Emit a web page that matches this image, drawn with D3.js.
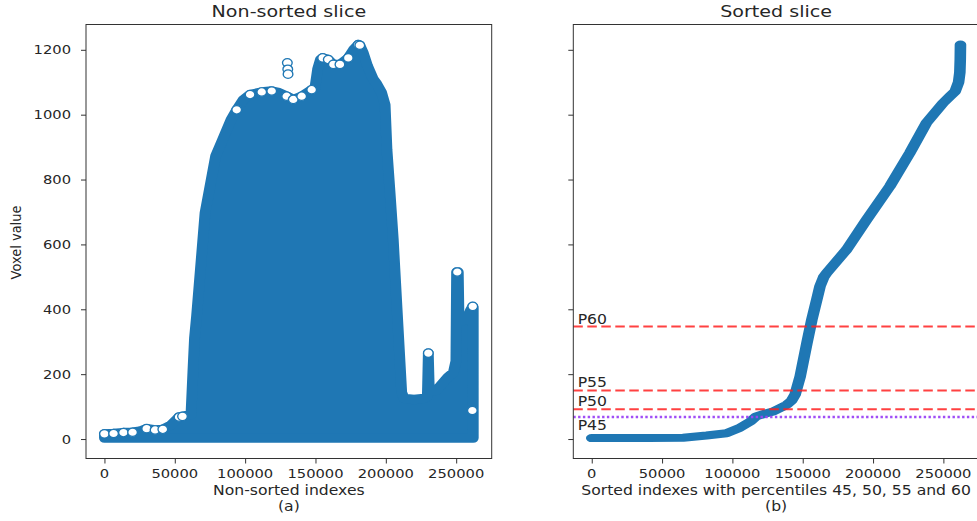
<!DOCTYPE html>
<html>
<head>
<meta charset="utf-8">
<style>
  body { margin: 0; background: #fff; }
  text { font-family: "DejaVu Sans", sans-serif; fill: #262626; }
</style>
</head>
<body>
<svg id="chart" width="977" height="521"></svg>
<script src="https://cdn.jsdelivr.net/npm/d3@7/dist/d3.min.js"></script>
<script>
// ---- data ----
// non-sorted slice: upper envelope of the voxel cloud (marker centres)
const nsIdx = [0, 6500, 13500, 20000, 25000, 30000, 36000, 41500, 47000, 53000, 55500, 58000, 61500, 63000, 64000,
  65500, 71500, 79000, 84000, 90000, 94000, 98500, 103500, 111800, 118900, 124000, 129500, 134200, 140200, 147300,
  149500, 151500, 153500, 155100, 159100, 162700, 167400, 173300, 177000, 180400, 181500, 184000, 187000, 191000,
  193500, 197000, 199500, 200800, 203000, 205300, 208000, 211300, 213000, 220000, 227000, 229500, 230200, 230900,
  232000, 236000, 240000, 244000, 248000, 249800, 250300, 251500, 252000, 255000, 258000, 260000, 261800, 262144];
const nsMax = [16, 17, 20, 21, 24, 32, 28, 30, 42, 68, 70, 72, 75, 220, 310,
  380, 697, 872, 923, 985, 1015, 1045, 1062, 1070, 1073, 1068, 1057, 1047, 1057, 1077,
  1080, 1140, 1170, 1175, 1170, 1155, 1155, 1175, 1200, 1216, 1214, 1190, 1150, 1110,
  1095, 1068, 1030, 893, 760, 614, 400, 143, 125, 122, 125, 130, 265, 150,
  148, 150, 170, 190, 205, 240, 515, 515, 370, 365, 372, 395, 409, 405];
const nsMin = 3;
// hollow markers that stay visible on the top edge
const capIdx = [0, 6500, 13500, 20000, 30000, 36000, 41500, 53000, 55500, 94000, 103500, 111800, 118900, 129500,
  134200, 140200, 147300, 130000, 130300, 130500, 155100, 159100, 162700, 167400, 173300, 180400, 181500,
  230200, 250800, 261800, 261500];
const capVal = [16, 17, 20, 21, 32, 28, 30, 68, 70, 1015, 1062, 1070, 1073, 1057,
  1047, 1057, 1077, 1160, 1140, 1125, 1175, 1170, 1155, 1155, 1175, 1216, 1214,
  265, 515, 409, 88];

// sorted slice
const soIdx = [0, 40000, 65000, 81600, 95800, 105000, 112800, 117000, 123000, 129000, 138700, 142000, 144600,
  148200, 153000, 156500, 160000, 162300, 165000, 167000, 181200, 195400, 211900, 226100, 238000, 249800,
  254800, 258400, 260800, 261700, 262000, 262144];
const soVal = [3, 3, 4, 11, 18, 34, 54, 70, 78, 85, 106, 118, 137,
  193, 296, 368, 430, 471, 500, 512, 584, 676, 779, 882, 975, 1036,
  1057, 1072, 1100, 1130, 1170, 1216];

// percentiles
const pctNames = ["P45", "P50", "P55", "P60"];
const pctValues = [68, 92, 150, 347];
const pctLabelAt = [29, 103, 160, 356];

const xTicks = [0, 50000, 100000, 150000, 200000, 250000];
const yTicks = [0, 200, 400, 600, 800, 1000, 1200];

// ---- layout ----
const SX = 1.15;          // picture is slightly stretched sideways
const blue = "#1f77b4";
const svg = d3.select("#chart");
const axTop = 24.5, axBottom = 458.5;
const panels = [
  { left: 86, right: 491.7, title: "Non-sorted slice", xlabel: "Non-sorted indexes", sub: "(a)" },
  { left: 573.3, right: 978.9, title: "Sorted slice", xlabel: "Sorted indexes with percentiles 45, 50, 55 and 60", sub: "(b)" }
];

const y = d3.scaleLinear().domain([-60, 1278]).range([axBottom, axTop]);

function txt(g, x, yy, s, size, anchor, rot) {
  return g.append("text")
    .attr("transform", `translate(${x},${yy}) scale(${SX},1)` + (rot ? ` rotate(${rot})` : ""))
    .attr("text-anchor", anchor)
    .style("font-size", size + "px")
    .text(s);
}

panels.forEach((p, i) => {
  const x = d3.scaleLinear().domain([-13107, 275251]).range([p.left, p.right]);
  p.x = x;
  const g = svg.append("g");

  // axes ticks
  const xa = g.append("g").attr("transform", `translate(0,${axBottom})`)
    .call(d3.axisBottom(x).tickValues(xTicks).tickSize(5).tickFormat(""));
  const ya = g.append("g").attr("transform", `translate(${p.left},0)`)
    .call(d3.axisLeft(y).tickValues(yTicks).tickSize(5).tickFormat(""));
  [xa, ya].forEach(a => {
    a.select(".domain").remove();
    a.selectAll("line").attr("stroke", "#333").attr("stroke-width", 1);
  });
  xTicks.forEach(t => txt(g, x(t), 478, String(t), 12.8, "middle"));
  if (i === 0) yTicks.forEach(t => txt(g, 71, y(t) + 4.6, String(t), 12.8, "end"));

  txt(g, (p.left + p.right) / 2, 17, p.title, 16.6, "middle");
  txt(g, (p.left + p.right) / 2, 495, p.xlabel, 13.6, "middle");
  txt(g, (p.left + p.right) / 2, 510.5, p.sub, 13.6, "middle");
});

txt(svg, 20.5, 242.5, "Voxel value", 13, "middle", -90);

// ---- left: non-sorted cloud ----
{
  const x = panels[0].x;
  const S = 1.15;
  const xs = x.copy().range(x.range().map(v => v / S));
  const g = svg.append("g").attr("transform", `scale(${S},1)`);
  const pts = nsIdx.map((d, k) => [d, nsMax[k]]);
  const area = d3.area().x(d => xs(d[0])).y0(y(nsMin)).y1(d => y(d[1]));
  g.append("path").attr("d", area(pts))
    .attr("fill", blue).attr("stroke", blue)
    .attr("stroke-width", 9.4).attr("stroke-linejoin", "round");
  g.selectAll("circle.cap").data(capIdx.map((d, k) => [d, capVal[k]]))
    .join("circle").attr("class", "cap")
    .attr("cx", d => xs(d[0])).attr("cy", d => y(d[1])).attr("r", 4.2)
    .attr("fill", "#fff").attr("stroke", blue).attr("stroke-width", 1.2);
}

// ---- right: sorted curve + percentile lines ----
{
  const x = panels[1].x;
  const S = 1.45;
  const xs = x.copy().range(x.range().map(v => v / S));
  const g = svg.append("g").attr("transform", `scale(${S},1)`);
  const line = d3.line().x(d => xs(d[0])).y(d => y(d[1]));
  g.append("path").attr("d", line(soIdx.map((d, k) => [d, soVal[k]])))
    .attr("fill", "none").attr("stroke", blue).attr("stroke-width", 8)
    .attr("stroke-linecap", "round").attr("stroke-linejoin", "round");

  const gl = svg.append("g");
  pctValues.forEach((v, k) => {
    const dotted = k === 0;
    gl.append("line")
      .attr("x1", panels[1].left).attr("x2", panels[1].right)
      .attr("y1", y(v)).attr("y2", y(v))
      .attr("stroke", dotted ? "#9b45f5" : "#ff2020")
      .attr("stroke-opacity", dotted ? 0.95 : 0.85)
      .attr("stroke-width", dotted ? 2.4 : 2)
      .attr("stroke-dasharray", dotted ? "2.4,2.4" : "9.5,4.5");
    txt(gl, x(-10000), y(pctLabelAt[k]), pctNames[k], 13.6, "start");
  });
}

// ---- frames (spines) ----
panels.forEach(p => {
  svg.append("rect").attr("x", p.left).attr("y", axTop)
    .attr("width", p.right - p.left).attr("height", axBottom - axTop)
    .attr("fill", "none").attr("stroke", "#333").attr("stroke-width", 1);
});
</script>
</body>
</html>
